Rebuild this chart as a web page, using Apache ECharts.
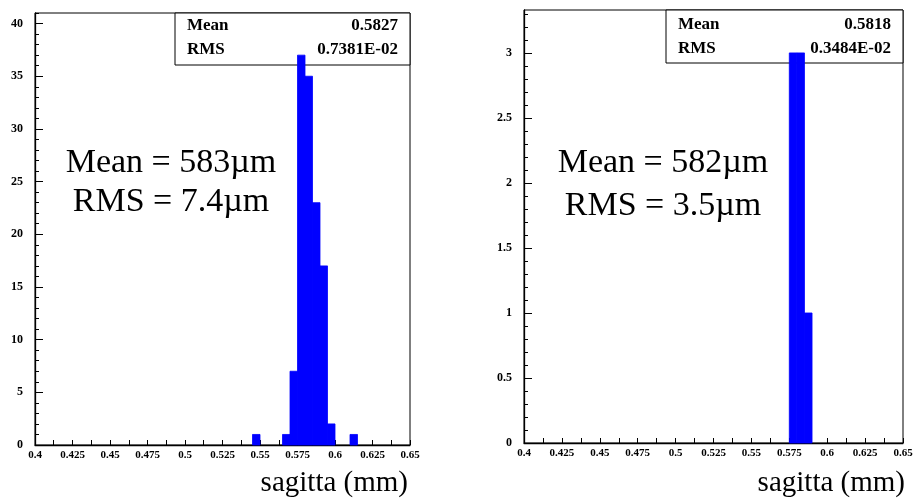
<!DOCTYPE html>
<html>
<head>
<meta charset="utf-8">
<script src="https://cdn.jsdelivr.net/npm/echarts@6/dist/echarts.min.js"></script>
<style>
html,body{margin:0;padding:0;background:#fff;}
#c{width:917px;height:499px;}
</style>
</head>
<body>
<div id="c"></div>
<script>
// ---- data ----
const binWidth = 0.005;
const leftBinLow = [0.545, 0.565, 0.570, 0.575, 0.580, 0.585, 0.590, 0.595, 0.610];
const leftCounts = [1, 1, 7, 37, 35, 23, 17, 2, 1];
const rightBinLow = [0.575, 0.580, 0.585];
const rightCounts = [3, 3, 1];

const xTicks = [0.4, 0.425, 0.45, 0.475, 0.5, 0.525, 0.55, 0.575, 0.6, 0.625, 0.65];
const leftYTicks = [0, 5, 10, 15, 20, 25, 30, 35, 40];
const rightYTicks = [0, 0.5, 1, 1.5, 2, 2.5, 3];
const leftYMax = 41;
const rightYMax = 3.33;

const leftStats = {mean: '0.5827', rms: '0.7381E-02'};
const rightStats = {mean: '0.5818', rms: '0.3484E-02'};
const leftNote = ['Mean = 583\u00b5m', 'RMS = 7.4\u00b5m'];
const rightNote = ['Mean = 582\u00b5m', 'RMS = 3.5\u00b5m'];
const xTitle = 'sagitta (mm)';

// ---- build ----
function minorList(max, step) {
  const out = [];
  for (let i = 0; i * step <= max + 1e-9; i++) out.push(+(i * step).toFixed(4));
  return out;
}
const leftMinor = minorList(leftYMax, 1);
const rightMinor = minorList(rightYMax, 0.1);

const tickFontX = {fontFamily: 'Liberation Serif', fontWeight: 'bold', fontSize: 11, color: '#000'};
const tickFontY = {fontFamily: 'Liberation Serif', fontWeight: 'bold', fontSize: 12, color: '#000'};

function xAxis(gi) {
  return {
    type: 'value', gridIndex: gi, min: 0.4, max: 0.65, interval: 0.025,
    axisLine: {lineStyle: {color: '#000', width: 1.3}},
    axisTick: {inside: true, length: 5, lineStyle: {color: '#000'}},
    minorTick: {show: true, splitNumber: 2, length: 5, lineStyle: {color: '#000'}},
    splitLine: {show: false},
    axisLabel: Object.assign({margin: 5, customValues: xTicks, formatter: v => String(+v.toFixed(3))}, tickFontX)
  };
}
function yMajor(gi, max, ticks) {
  return {
    type: 'value', gridIndex: gi, min: 0, max: max,
    axisLine: {show: true, lineStyle: {color: '#000', width: 1.3}},
    axisTick: {inside: true, length: 8, customValues: ticks, lineStyle: {color: '#000'}},
    splitLine: {show: false},
    axisLabel: Object.assign({margin: 12, customValues: ticks}, tickFontY)
  };
}
function yMinor(gi, max, ticks) {
  return {
    type: 'value', gridIndex: gi, min: 0, max: max, position: 'left',
    axisLine: {show: false},
    axisTick: {inside: true, length: 4, customValues: ticks, lineStyle: {color: '#000'}},
    splitLine: {show: false},
    axisLabel: {show: false}
  };
}
function renderItem(params, api) {
  const lo = api.value(0), hi = api.value(1), c = api.value(2);
  const p0 = api.coord([lo, 0]);
  const p1 = api.coord([hi, c]);
  return {
    type: 'rect',
    shape: {x: p0[0], y: p1[1], width: p1[0] - p0[0], height: p0[1] - p1[1]},
    style: {fill: '#0000ff', stroke: '#0000ff', lineWidth: 0.8}
  };
}
function histData(lows, counts) {
  return lows.map((l, i) => [l, +(l + binWidth).toFixed(4), counts[i]]);
}

function statsBox(x, y, w, h, st, rowY1, rowY2) {
  const f = {fontFamily: 'Liberation Serif', fontWeight: 'bold', fontSize: 17, fill: '#000'};
  return [
    {type: 'rect', z: 1, shape: {x: x, y: y, width: w, height: h}, style: {fill: '#fff', stroke: '#000', lineWidth: 1}},
    {type: 'text', z: 10, x: x + 12, y: rowY1, style: Object.assign({text: 'Mean', textVerticalAlign: 'middle'}, f)},
    {type: 'text', z: 10, x: x + 12, y: rowY2, style: Object.assign({text: 'RMS', textVerticalAlign: 'middle'}, f)},
    {type: 'text', z: 10, x: x + w - 12, y: rowY1, style: Object.assign({text: st.mean, textAlign: 'right', textVerticalAlign: 'middle'}, f)},
    {type: 'text', z: 10, x: x + w - 12, y: rowY2, style: Object.assign({text: st.rms, textAlign: 'right', textVerticalAlign: 'middle'}, f)}
  ];
}
function note(cx, y1, y2, lines) {
  const f = {fontFamily: 'Liberation Serif', fontSize: 34, fill: '#000', textAlign: 'center', textVerticalAlign: 'middle'};
  return [
    {type: 'text', z: 10, x: cx, y: y1, style: Object.assign({text: lines[0]}, f)},
    {type: 'text', z: 10, x: cx, y: y2, style: Object.assign({text: lines[1]}, f)}
  ];
}
function title(rx, y) {
  return {type: 'text', z: 10, x: rx, y: y, style: {text: xTitle, fontFamily: 'Liberation Serif', fontSize: 29, fill: '#000', textAlign: 'right', textVerticalAlign: 'middle'}};
}

const chart = echarts.init(document.getElementById('c'), null, {renderer: 'canvas'});
chart.setOption({
  animation: false,
  backgroundColor: '#fff',
  grid: [
    {left: 35, top: 13, width: 375, height: 432, show: true, borderColor: '#000', borderWidth: 1, backgroundColor: 'transparent'},
    {left: 524, top: 10, width: 379, height: 433, show: true, borderColor: '#000', borderWidth: 1, backgroundColor: 'transparent'}
  ],
  xAxis: [xAxis(0), xAxis(1)],
  yAxis: [yMajor(0, leftYMax, leftYTicks), yMinor(0, leftYMax, leftMinor),
          yMajor(1, rightYMax, rightYTicks), yMinor(1, rightYMax, rightMinor)],
  series: [
    {type: 'custom', xAxisIndex: 0, yAxisIndex: 0, z: 5, renderItem: renderItem, encode: {x: [0, 1], y: 2}, data: histData(leftBinLow, leftCounts)},
    {type: 'custom', xAxisIndex: 1, yAxisIndex: 2, z: 5, renderItem: renderItem, encode: {x: [0, 1], y: 2}, data: histData(rightBinLow, rightCounts)}
  ],
  graphic: [].concat(
    statsBox(175, 13, 235, 52, leftStats, 26, 50),
    statsBox(666, 10, 237, 53, rightStats, 25, 49),
    note(171, 163, 202, leftNote),
    note(663, 163, 206, rightNote),
    [title(408, 483), title(905, 483)]
  )
});
</script>
</body>
</html>
